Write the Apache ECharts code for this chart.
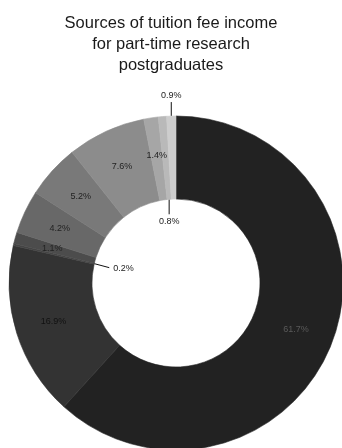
<!DOCTYPE html>
<html>
<head>
<meta charset="utf-8">
<script src="https://cdn.jsdelivr.net/npm/echarts@6/dist/echarts.min.js"></script>
<style>
html,body{margin:0;padding:0;background:#fff;}
#c{width:342px;height:448px;}
</style>
</head>
<body>
<div id="c"></div>
<script>
var titleText = "Sources of tuition fee income\nfor part-time research\npostgraduates";
var categories = ["s1","s2","s3","s4","s5","s6","s7","s8","s9","s10"];
var values = [61.7, 16.9, 0.2, 1.1, 4.2, 5.2, 7.6, 1.4, 0.8, 0.9];
var labels = ["61.7%","16.9%","0.2%","1.1%","4.2%","5.2%","7.6%","1.4%","0.8%","0.9%"];
var colors = ["#222222","#333333","#444444","#4c4c4c","#686868","#797979","#8c8c8c","#a6a6a6","#b9b9b9","#cdcdcd"];
var labelColors = ["#5a5a5a","#111111","#222222","#222222","#222222","#222222","#222222","#222222","#222222","#222222"];
// special label placement: 'top' outside, 'down' into hole, 'right' into hole
var special = {2: "right", 8: "down", 9: "top"};

var CX = 176, CY = 283, R0 = 84, R1 = 167;

var total = values.reduce(function(a,b){return a+b;},0);
var midAngles = [];
(function(){
  var cum = 0;
  for (var i = 0; i < values.length; i++) {
    midAngles.push((cum + values[i]/2) / total * 2 * Math.PI);
    cum += values[i];
  }
})();
function pt(angle, r){ return [CX + r*Math.sin(angle), CY - r*Math.cos(angle)]; }

var data = values.map(function(v, i){
  var item = {
    name: categories[i], value: v,
    itemStyle: {color: colors[i], borderColor: colors[i], borderWidth: 0.6},
    label: {formatter: labels[i], color: labelColors[i]}
  };
  if (special[i]) {
    item.label.position = "outside";
    item.labelLine = {show: true, lineStyle: {color: "#111", width: 1}};
  } else {
    item.label.position = "inside";
    item.labelLine = {show: false};
  }
  return item;
});

var chart = echarts.init(document.getElementById('c'), null, {renderer: 'canvas'});
chart.setOption({
  animation: false,
  title: {
    text: titleText, left: 'center', top: 8,
    textStyle: {fontFamily: 'Liberation Sans, Arial, sans-serif', fontSize: 16.5, fontWeight: 'normal', color: '#1a1a1a', lineHeight: 21}
  },
  series: [{
    type: 'pie',
    center: [CX, CY],
    radius: [R0, R1],
    startAngle: 90,
    clockwise: true,
    padAngle: 0,
    avoidLabelOverlap: false,
    silent: true,
    label: {fontFamily: 'Liberation Sans, Arial, sans-serif', fontSize: 9},
    labelLayout: function(p){
      var i = p.dataIndex;
      var s = special[i];
      if (!s) return {};
      var a = midAngles[i];
      if (s === "top") {
        var o = pt(a, R1);
        return {x: o[0], y: o[1]-21, align: 'center', verticalAlign: 'middle',
                labelLinePoints: [[o[0], o[1]], [o[0], o[1]-14], [o[0], o[1]-14]]};
      }
      if (s === "down") {
        var q = pt(a, R0);
        return {x: q[0], y: q[1]+22, align: 'center', verticalAlign: 'middle',
                labelLinePoints: [[q[0], q[1]], [q[0], q[1]+15], [q[0], q[1]+15]]};
      }
      var w = pt(a, R0);
      return {x: w[0]+19, y: w[1]+5, align: 'left', verticalAlign: 'middle',
              labelLinePoints: [[w[0], w[1]], [w[0]+15, w[1]+4], [w[0]+15, w[1]+4]]};
    },
    data: data
  }]
});
</script>
</body>
</html>
